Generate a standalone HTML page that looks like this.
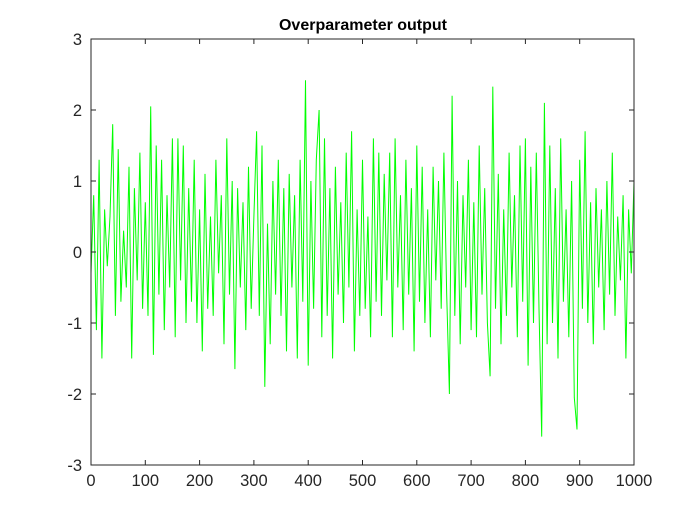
<!DOCTYPE html>
<html><head><meta charset="utf-8"><style>
body{margin:0;background:#fff}
text{font-family:"Liberation Sans",Arial,sans-serif}
</style></head><body>
<svg id="chart" width="700" height="525">
<rect width="700" height="525" fill="#fff"/>
<text x="363" y="30" text-anchor="middle" font-size="16" font-weight="bold" fill="#000">Overparameter output</text>
<g id="plot"></g>
</svg>
<script>
const xTicks=[0,100,200,300,400,500,600,700,800,900,1000];
const yTicks=[-3,-2,-1,0,1,2,3];
const sampleStep=5;
const values=[-0.3,0.8,-1.1,1.3,-1.5,0.6,-0.2,0.5,1.8,-0.9,
1.45,-0.7,0.3,-0.5,1.2,-1.5,0.9,-0.4,1.4,-0.8,
0.7,-0.9,2.05,-1.45,1.5,-0.6,1.3,-1.1,0.8,-0.5,
1.6,-1.2,1.6,-0.4,1.5,-1.0,0.9,-0.7,1.3,-1.0,
0.6,-1.4,1.1,-0.8,0.5,-0.9,1.3,-0.3,0.8,-1.3,
1.6,-0.6,1.0,-1.65,0.9,-0.5,0.7,-1.1,1.2,-0.8,
0.5,1.7,-0.9,1.5,-1.9,0.4,-1.3,1.0,-0.6,1.3,
-0.9,0.9,-1.4,1.1,-0.5,0.8,-1.5,1.3,-0.7,2.42,
-1.6,1.0,-0.8,1.3,2.0,-1.2,1.6,-0.9,0.9,-1.5,
1.2,-0.6,0.7,-1.0,1.4,-0.5,1.7,-1.4,0.6,-0.9,
1.3,-0.8,0.5,-1.2,1.6,-0.7,1.4,-0.9,1.1,-0.4,
1.4,-1.2,1.6,-0.5,0.8,-1.1,1.3,-0.6,0.9,-1.4,
1.5,-0.7,1.2,-1.0,0.6,-1.2,1.2,-0.4,1.0,-0.8,
1.4,-0.6,-2.0,2.2,-0.9,1.0,-1.3,0.8,-0.5,1.3,
-1.1,0.7,-1.2,1.5,-0.6,0.9,-1.0,-1.75,2.33,-0.8,
1.1,-1.3,0.6,-0.9,1.4,-0.5,0.8,-1.2,1.5,-0.7,
1.6,-1.6,1.2,-1.0,1.4,-0.8,-2.6,2.1,-1.3,1.5,
-1.0,0.9,-1.5,1.6,-0.7,0.6,-1.2,1.0,-2.05,-2.5,
1.3,-0.8,1.7,-1.0,0.7,-1.3,0.9,-0.5,0.6,-1.1,
1.0,-0.6,1.4,-0.9,0.5,-0.4,0.8,-1.5,0.6,-0.3,
1.0];
const L=91,R=634,T=39,B=465;
const xs=v=>L+(v-0)/(1000-0)*(R-L);
const ys=v=>B-(v+3)/6*(B-T);
const NS="http://www.w3.org/2000/svg";
const g=document.getElementById('plot');
function mk(tag,attrs){const e=document.createElementNS(NS,tag);for(const k in attrs)e.setAttribute(k,attrs[k]);g.appendChild(e);return e;}
const box=mk('rect',{x:L,y:T,width:R-L,height:B-T,fill:'#fff',stroke:'none'});


let d='';
values.forEach((v,i)=>{d+=(i?'L':'M')+xs(i*sampleStep).toFixed(1)+' '+ys(v).toFixed(1);});
const line=mk('path',{d:d,fill:'none',stroke:'#00ff00','stroke-width':1});


const frame=mk('rect',{x:L,y:T,width:R-L,height:B-T,fill:'none',stroke:'#262626','stroke-width':1});


xTicks.forEach(t=>{
  const x=xs(t);
  mk('line',{x1:x,y1:B,x2:x,y2:B-5,stroke:'#262626'});
  mk('line',{x1:x,y1:T,x2:x,y2:T+5,stroke:'#262626'});
  const tx=mk('text',{x:x,y:B+21,'text-anchor':'middle','font-size':16.5,fill:'#262626'});
  tx.textContent=t;
  
  
});
yTicks.forEach(t=>{
  const y=ys(t);
  mk('line',{x1:L,y1:y,x2:L+5,y2:y,stroke:'#262626'});
  mk('line',{x1:R,y1:y,x2:R-5,y2:y,stroke:'#262626'});
  const ty=mk('text',{x:L-9,y:y+6,'text-anchor':'end','font-size':16.5,fill:'#262626'});
  ty.textContent=t;
  
  
});
</script>
</body></html>
